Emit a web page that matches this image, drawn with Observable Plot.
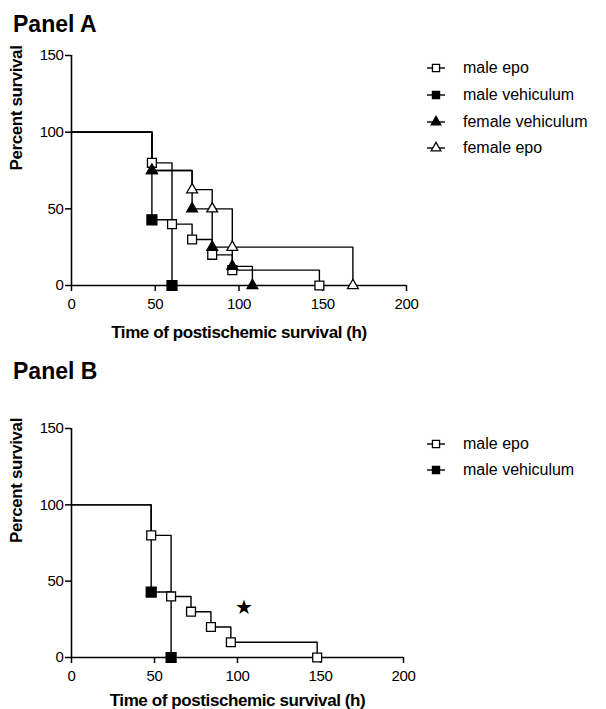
<!DOCTYPE html>
<html><head><meta charset="utf-8">
<script src="https://cdn.jsdelivr.net/npm/d3@7"></script>
<script src="https://cdn.jsdelivr.net/npm/@observablehq/plot@0.6"></script>
<style>
body{margin:0;background:#fff;font-family:"Liberation Sans",Arial,sans-serif;color:#000;}
#wrap{position:relative;width:606px;height:709px;overflow:hidden;background:#fff;}
.title{position:absolute;left:13px;font-weight:bold;font-size:23px;line-height:23px;}
.legrow{position:absolute;left:424px;height:20px;display:flex;align-items:center;white-space:nowrap;font-size:16px;}
.legrow svg{margin-right:14px;}
.plot{position:absolute;left:0;}
</style></head><body><div id="wrap"></div>
<script>
// ---- data ----
const seriesNames = ["male epo", "male vehiculum", "female vehiculum", "female epo"];
const maleEpoTime = [0, 48, 60, 72, 84, 96, 148];
const maleEpoSurv = [100, 80, 40, 30, 20, 10, 0];
const maleVehTime = [0, 48, 60];
const maleVehSurv = [100, 42.86, 0];
const femVehTime = [0, 48, 72, 84, 96, 108];
const femVehSurv = [100, 75, 50, 25, 12.5, 0];
const femEpoTime = [0, 48, 72, 84, 96, 168];
const femEpoSurv = [100, 75, 62.5, 50, 25, 0];
const xTicks = [0, 50, 100, 150, 200];
const yTicks = [0, 50, 100, 150];
const starTime = [103.6];
const starSurv = [33];
const xLabel = "Time of postischemic survival (h)";
const yLabel = "Percent survival";
const panelTitles = ["Panel A", "Panel B"];

const rowsOf = (t, s) => t.map((v, i) => ({t: v, s: s[i]}));
const series = [
  {name: seriesNames[0], rows: rowsOf(maleEpoTime, maleEpoSurv), symbol: "square", filled: false},
  {name: seriesNames[1], rows: rowsOf(maleVehTime, maleVehSurv), symbol: "square", filled: true},
  {name: seriesNames[2], rows: rowsOf(femVehTime, femVehSurv), symbol: "triangle", filled: true},
  {name: seriesNames[3], rows: rowsOf(femEpoTime, femEpoSurv), symbol: "triangle", filled: false}
];
const rOf = d => d.symbol === "square" ? (d.filled ? 5.6 : 5) : 4;

function panel(list, opts) {
  const marks = [
    Plot.ruleY([0], {stroke: "black", strokeWidth: 1.6}),
    Plot.ruleX([0], {stroke: "black", strokeWidth: 1.6}),
    Plot.axisX({ticks: xTicks, tickSize: 6, tickPadding: 7, label: null, strokeWidth: 1.5, fontSize: 15}),
    Plot.axisY({ticks: yTicks, tickSize: 6, tickPadding: 2, label: null, strokeWidth: 1.5, fontSize: 15}),
    Plot.text([xLabel], {frameAnchor: "bottom", dy: opts.xlabDy, text: d => d, fontWeight: "bold", fontSize: 17, lineAnchor: "middle"}),
    Plot.text([yLabel], {frameAnchor: "left", dx: -55, text: d => d, rotate: -90, fontWeight: "bold", fontSize: 17, lineAnchor: "middle"})
  ];
  for (const s of list) {
    marks.push(Plot.line(s.rows, {x: "t", y: "s", curve: "step-after", stroke: "black", strokeWidth: 1.4}));
  }
  const ordered = [...list.filter(s => !s.filled), ...list.filter(s => s.filled)];
  for (const s of ordered) {
    marks.push(Plot.dot(s.rows.slice(1), {x: "t", y: "s", symbol: s.symbol, r: rOf(s),
      fill: s.filled ? "black" : "white", stroke: "black", strokeWidth: 1.3}));
  }
  if (opts.star) {
    marks.push(Plot.text(starTime.map((t, i) => ({t, s: starSurv[i]})), {x: "t", y: "s", text: () => "★", fontSize: 20, fill: "black", lineAnchor: "middle"}));
  }
  return Plot.plot({
    width: 606, height: opts.height,
    marginTop: opts.mt, marginBottom: opts.mb, marginLeft: 71, marginRight: opts.mr,
    x: {domain: [0, 200]}, y: {domain: [0, 150]},
    style: {fontFamily: "'Liberation Sans', Arial, sans-serif", fontSize: "15px", color: "black", background: "transparent", overflow: "visible", letterSpacing: "-0.4px"},
    marks
  });
}

const wrap = document.getElementById("wrap");
function place(el, top) { el.classList.add("plot"); el.style.top = top + "px"; wrap.appendChild(el); }

place(panel(series, {height: 350, mt: 55, mb: 65, mr: 200, xlabDy: 47}), 0);
place(panel(series.slice(0, 2), {height: 349, mt: 68, mb: 52, mr: 203, xlabDy: 43, star: true}), 360);

// titles
[[panelTitles[0], 13], [panelTitles[1], 360]].forEach(([t, top]) => {
  const d = document.createElement("div"); d.className = "title"; d.textContent = t; d.style.top = top + "px"; wrap.appendChild(d);
});

// legends
function legend(list, centers) {
  list.forEach((s, i) => {
    const row = document.createElement("div"); row.className = "legrow";
    row.style.top = (centers[i] - 10) + "px";
    const lr = s.symbol === "square" ? 4 : 3.6;
    const path = d3.symbol(s.symbol === "square" ? d3.symbolSquare : d3.symbolTriangle, Math.PI * lr * lr)();
    row.innerHTML = `<svg width="25" height="16"><line x1="3" x2="21" y1="8" y2="8" stroke="black" stroke-width="1.4"/>` +
      `<path transform="translate(12,8)" d="${path}" fill="${s.filled ? "black" : "white"}" stroke="black" stroke-width="1.3"/></svg>`;
    const sp = document.createElement("span"); sp.textContent = s.name; row.appendChild(sp);
    wrap.appendChild(row);
  });
}
legend(series, [68, 95, 122, 148]);
legend(series.slice(0, 2), [444, 470]);
</script></body></html>
